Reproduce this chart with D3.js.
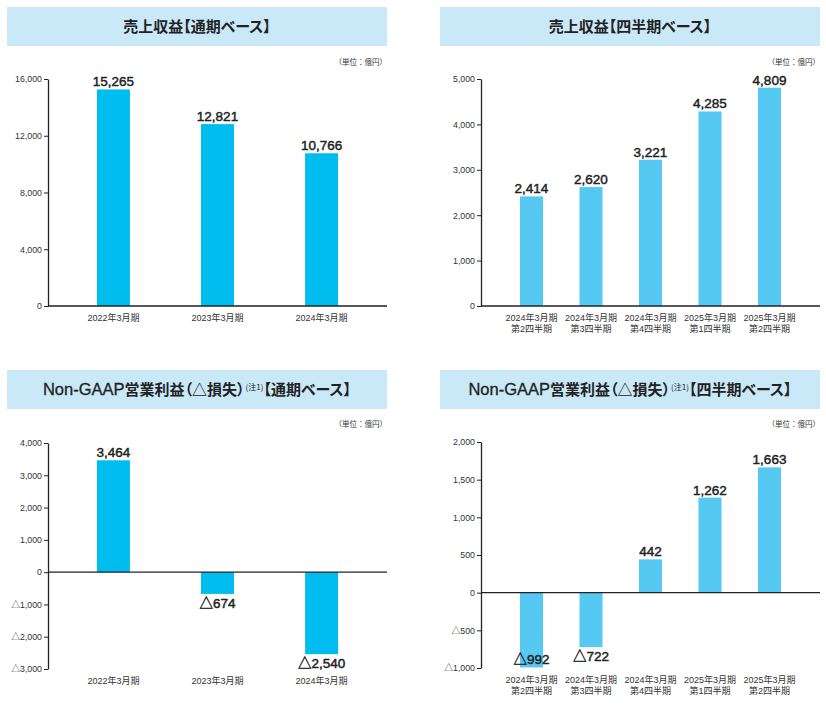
<!DOCTYPE html>
<html>
<head>
<meta charset="utf-8">
<script src="https://cdn.jsdelivr.net/npm/d3@7"></script>
<style>
  html, body { margin: 0; padding: 0; background: #fff; }
  svg { display: block; }
  .ttl { font-feature-settings: "palt" 1; }
</style>
</head>
<body>
<svg id="chart" width="826" height="706"></svg>
<script>
// ---- data ----
const annualCategories = ["2022年3月期", "2023年3月期", "2024年3月期"];
const annualRevenue = [15265, 12821, 10766];
const annualOpIncome = [3464, -674, -2540];

const quarterCategories = [
  ["2024年3月期", "第2四半期"],
  ["2024年3月期", "第3四半期"],
  ["2024年3月期", "第4四半期"],
  ["2025年3月期", "第1四半期"],
  ["2025年3月期", "第2四半期"]
];
const quarterRevenue = [2414, 2620, 3221, 4285, 4809];
const quarterOpIncome = [-992, -722, 442, 1262, 1663];

const annualRevenueTicks = [0, 4000, 8000, 12000, 16000];
const quarterRevenueTicks = [0, 1000, 2000, 3000, 4000, 5000];
const annualOpTicks = [-3000, -2000, -1000, 0, 1000, 2000, 3000, 4000];
const quarterOpTicks = [-1000, -500, 0, 500, 1000, 1500, 2000];

const unitLabel = "（単位：億円）";
const titles = {
  tl: ["売上収益【通期ベース】"],
  tr: ["売上収益【四半期ベース】"],
  bl: ["Non-GAAP", "営業利益（△損失）", "(注1)", "【通期ベース】"],
  br: ["Non-GAAP", "営業利益（△損失）", "(注1)", "【四半期ベース】"]
};

// ---- styles ----
const annualColor = "#00bdf0";
const quarterColor = "#56c9f2";
const headerColor = "#c9e9f8";
const numFont = "'Liberation Sans', Arial, 'Noto Sans CJK JP', sans-serif";
const jpFont = "'Noto Sans CJK JP', 'Liberation Sans', sans-serif";
const fmtNum = d3.format(",");
const fmt = v => (v < 0 ? "△" : "") + fmtNum(Math.abs(v));

const svg = d3.select("#chart");

function panel(cfg) {
  const g = svg.append("g");
  // header
  g.append("rect")
    .attr("x", cfg.hx0).attr("y", cfg.hy0)
    .attr("width", cfg.hx1 - cfg.hx0).attr("height", cfg.hy1 - cfg.hy0)
    .attr("fill", headerColor);
  const t = g.append("text")
    .attr("class", "ttl")
    .attr("x", (cfg.hx0 + cfg.hx1) / 2)
    .attr("y", (cfg.hy0 + cfg.hy1) / 2 + 5.5)
    .attr("text-anchor", "middle")
    .attr("font-family", jpFont)
    .attr("font-weight", 700)
    .attr("font-size", 15)
    .attr("fill", "#222");
  if (cfg.title.length === 1) {
    t.text(cfg.title[0]);
  } else {
    t.append("tspan").attr("font-family", numFont).attr("font-weight", 400).attr("font-size", 16.5)
      .attr("stroke", "#222").attr("stroke-width", 0.3).text(cfg.title[0]);
    t.append("tspan").text(cfg.title[1]);
    t.append("tspan").attr("font-size", 8).attr("font-weight", 400).attr("dy", -5).attr("dx", 1).text(cfg.title[2]);
    t.append("tspan").attr("dy", 5).text(cfg.title[3]);
  }
  // unit
  g.append("text")
    .attr("x", cfg.hx1).attr("y", cfg.unitY)
    .attr("text-anchor", "end")
    .attr("font-family", jpFont)
    .attr("font-size", 7.5)
    .attr("fill", "#333")
    .text(unitLabel);

  const y = d3.scaleLinear().domain(d3.extent(cfg.ticks)).range([cfg.yBottom, cfg.yTop]);
  const n = cfg.values.length;
  const x = d3.scaleBand()
    .domain(d3.range(n))
    .range([cfg.axisX, cfg.rightX])
    .paddingInner(cfg.padIn)
    .paddingOuter(cfg.padOut);

  // y axis
  const ax = g.append("g")
    .attr("transform", `translate(${cfg.axisX},0)`)
    .call(d3.axisLeft(y).tickValues(cfg.ticks).tickFormat(fmt).tickSize(4).tickSizeOuter(0).tickPadding(2));
  ax.select(".domain").attr("stroke", "#222").attr("stroke-width", 1.3);
  ax.selectAll(".tick line").attr("stroke", "#222").attr("stroke-width", 1);
  ax.selectAll(".tick text")
    .attr("font-family", numFont)
    .attr("font-size", 8.8)
    .attr("fill", "#333");

  // bars
  g.selectAll("rect.bar")
    .data(cfg.values)
    .join("rect")
    .attr("class", "bar")
    .attr("x", (d, i) => x(i))
    .attr("width", x.bandwidth())
    .attr("y", d => y(Math.max(0, d)))
    .attr("height", d => Math.abs(y(d) - y(0)))
    .attr("fill", cfg.color);

  // zero line
  g.append("line")
    .attr("x1", cfg.axisX).attr("x2", cfg.rightX)
    .attr("y1", y(0)).attr("y2", y(0))
    .attr("stroke", "#222").attr("stroke-width", 1.3);

  // value labels
  const yMinPix = y(d3.min(cfg.ticks));
  g.selectAll("text.val")
    .data(cfg.values)
    .join("text")
    .attr("class", "val")
    .attr("x", (d, i) => x(i) + x.bandwidth() / 2)
    .attr("y", d => {
      if (d >= 0) return y(d) - 3;
      const b = y(d) + 14;
      return b > yMinPix + 4 ? y(d) - 3 : b;
    })
    .attr("text-anchor", "middle")
    .attr("font-family", numFont)
    .attr("font-weight", 400)
    .attr("font-size", 13.5)
    .attr("stroke", "#222")
    .attr("stroke-width", 0.45)
    .attr("fill", "#222")
    .text(fmt);

  // category labels
  const cats = g.selectAll("text.cat")
    .data(cfg.categories)
    .join("text")
    .attr("class", "cat")
    .attr("x", (d, i) => x(i) + x.bandwidth() / 2)
    .attr("y", cfg.yBottom + 14.5)
    .attr("text-anchor", "middle")
    .attr("font-family", numFont)
    .attr("font-size", 9)
    .attr("fill", "#333");
  cats.each(function (d) {
    const lines = Array.isArray(d) ? d : [d];
    const sel = d3.select(this);
    lines.forEach((l, k) => {
      sel.append("tspan")
        .attr("x", sel.attr("x"))
        .attr("dy", k === 0 ? 0 : 11)
        .text(l);
    });
  });
}

panel({
  title: titles.tl, hx0: 7, hx1: 387, hy0: 7, hy1: 46, unitY: 65,
  axisX: 48, rightX: 387, yTop: 79, yBottom: 306,
  ticks: annualRevenueTicks, values: annualRevenue, categories: annualCategories,
  padIn: 0.683, padOut: 0.47, color: annualColor
});
panel({
  title: titles.tr, hx0: 440, hx1: 820, hy0: 7, hy1: 46, unitY: 65,
  axisX: 481, rightX: 820, yTop: 79, yBottom: 306,
  ticks: quarterRevenueTicks, values: quarterRevenue, categories: quarterCategories,
  padIn: 0.613, padOut: 0.655, color: quarterColor
});
panel({
  title: titles.bl, hx0: 7, hx1: 387, hy0: 370, hy1: 409, unitY: 427,
  axisX: 48, rightX: 387, yTop: 443, yBottom: 669,
  ticks: annualOpTicks, values: annualOpIncome, categories: annualCategories,
  padIn: 0.683, padOut: 0.47, color: annualColor
});
panel({
  title: titles.br, hx0: 440, hx1: 820, hy0: 370, hy1: 409, unitY: 427,
  axisX: 481, rightX: 820, yTop: 442, yBottom: 668,
  ticks: quarterOpTicks, values: quarterOpIncome, categories: quarterCategories,
  padIn: 0.613, padOut: 0.655, color: quarterColor
});
</script>
</body>
</html>
